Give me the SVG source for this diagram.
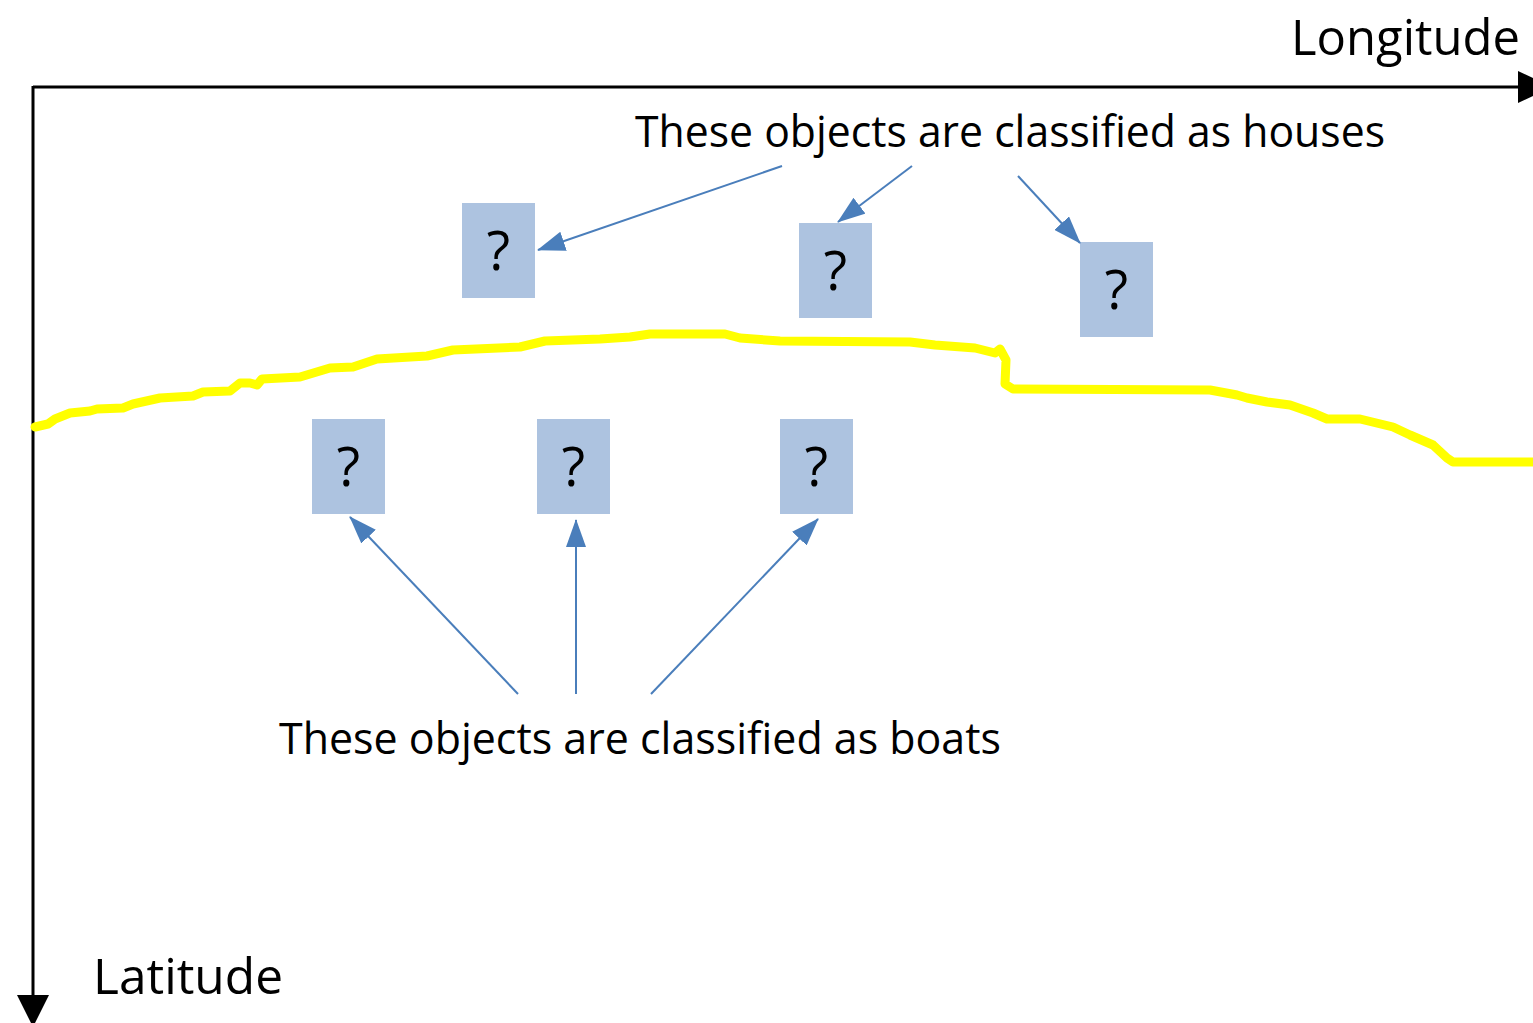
<svg xmlns="http://www.w3.org/2000/svg" width="1533" height="1023" viewBox="0 0 1533 1023">
  <style>
    .label { font-family: "Open Sans", "Liberation Sans", sans-serif; fill: #000; }
    .box { fill: #ADC3E0; }
    .q { font-family: "Open Sans", "Liberation Sans", sans-serif; font-size: 54px; text-anchor: middle; fill: #000; }
    .conn { stroke: #4A7EBB; stroke-width: 2; fill: none; marker-end: url(#head); }
    .axis { stroke: #000; stroke-width: 3; fill: none; }
  </style>
  <defs>
    <marker id="head" markerUnits="userSpaceOnUse" markerWidth="28" markerHeight="20" viewBox="0 0 28 20" refX="27" refY="10" orient="auto">
      <path d="M0,0 L28,10 L0,20 z" fill="#4A7EBB"/>
    </marker>
  </defs>
  <rect width="1533" height="1023" fill="#fff"/>

  <!-- axes -->
  <g id="axes">
    <line class="axis" x1="33" y1="87" x2="1520" y2="87"/>
    <polygon points="1518,71 1552,87 1518,103" fill="#000"/>
    <line class="axis" x1="33" y1="86" x2="33" y2="997"/>
    <polygon points="17,995 49,995 33,1027" fill="#000"/>
    <text class="label" x="1291" y="55" font-size="50" textLength="229" lengthAdjust="spacingAndGlyphs">Longitude</text>
    <text class="label" x="93" y="994" font-size="50" textLength="190" lengthAdjust="spacingAndGlyphs">Latitude</text>
  </g>

  <!-- boundary line -->
  <path id="boundary" fill="none" stroke="#FFFF00" stroke-width="9" stroke-linejoin="round" stroke-linecap="round"
    d="M35,427 L48,424 L55,419 L70,413 L90,411 L97,409 L123,408 L133,404 L160,398 L193,396 L203,392 L230,391 L240,383 L250,383 L257,385 L262,379 L300,377 L330,368 L353,367 L377,359 L427,356 L453,350 L520,347 L545,341 L600,339 L630,337 L650,334 L725,334 L740,338 L780,341 L910,342 L935,345 L975,348 L995,353 L1000,349 L1006,360 L1005,384 L1013,389 L1210,390 L1237,395 L1247,398 L1267,402 L1290,405 L1313,413 L1327,419 L1360,419 L1393,427 L1410,435 L1433,445 L1447,458 L1453,462 L1533,462"/>

  <!-- objects above the line -->
  <g id="house1"><rect class="box" x="462" y="203" width="73" height="95"/><text class="q" x="498.5" y="270">?</text></g>
  <g id="house2"><rect class="box" x="799" y="223" width="73" height="95"/><text class="q" x="835.5" y="290">?</text></g>
  <g id="house3"><rect class="box" x="1080" y="242" width="73" height="95"/><text class="q" x="1116.5" y="309">?</text></g>

  <!-- objects below the line -->
  <g id="boat1"><rect class="box" x="312" y="419" width="73" height="95"/><text class="q" x="348.5" y="486">?</text></g>
  <g id="boat2"><rect class="box" x="537" y="419" width="73" height="95"/><text class="q" x="573.5" y="486">?</text></g>
  <g id="boat3"><rect class="box" x="780" y="419" width="73" height="95"/><text class="q" x="816.5" y="486">?</text></g>

  <!-- captions -->
  <g id="houses-label">
    <text class="label" x="635" y="147" font-size="44" textLength="750" lengthAdjust="spacingAndGlyphs">These objects are classified as houses</text>
  </g>
  <g id="boats-label">
    <text class="label" x="279" y="754" font-size="44" textLength="722" lengthAdjust="spacingAndGlyphs">These objects are classified as boats</text>
  </g>

  <!-- connectors -->
  <g id="connectors">
    <line class="conn" x1="782" y1="166" x2="538" y2="250"/>
    <line class="conn" x1="912" y1="166" x2="838" y2="222"/>
    <line class="conn" x1="1018" y1="176" x2="1080" y2="243"/>
    <line class="conn" x1="518" y1="694" x2="350" y2="517"/>
    <line class="conn" x1="576" y1="694" x2="576" y2="520"/>
    <line class="conn" x1="651" y1="694" x2="818" y2="519"/>
  </g>
</svg>
